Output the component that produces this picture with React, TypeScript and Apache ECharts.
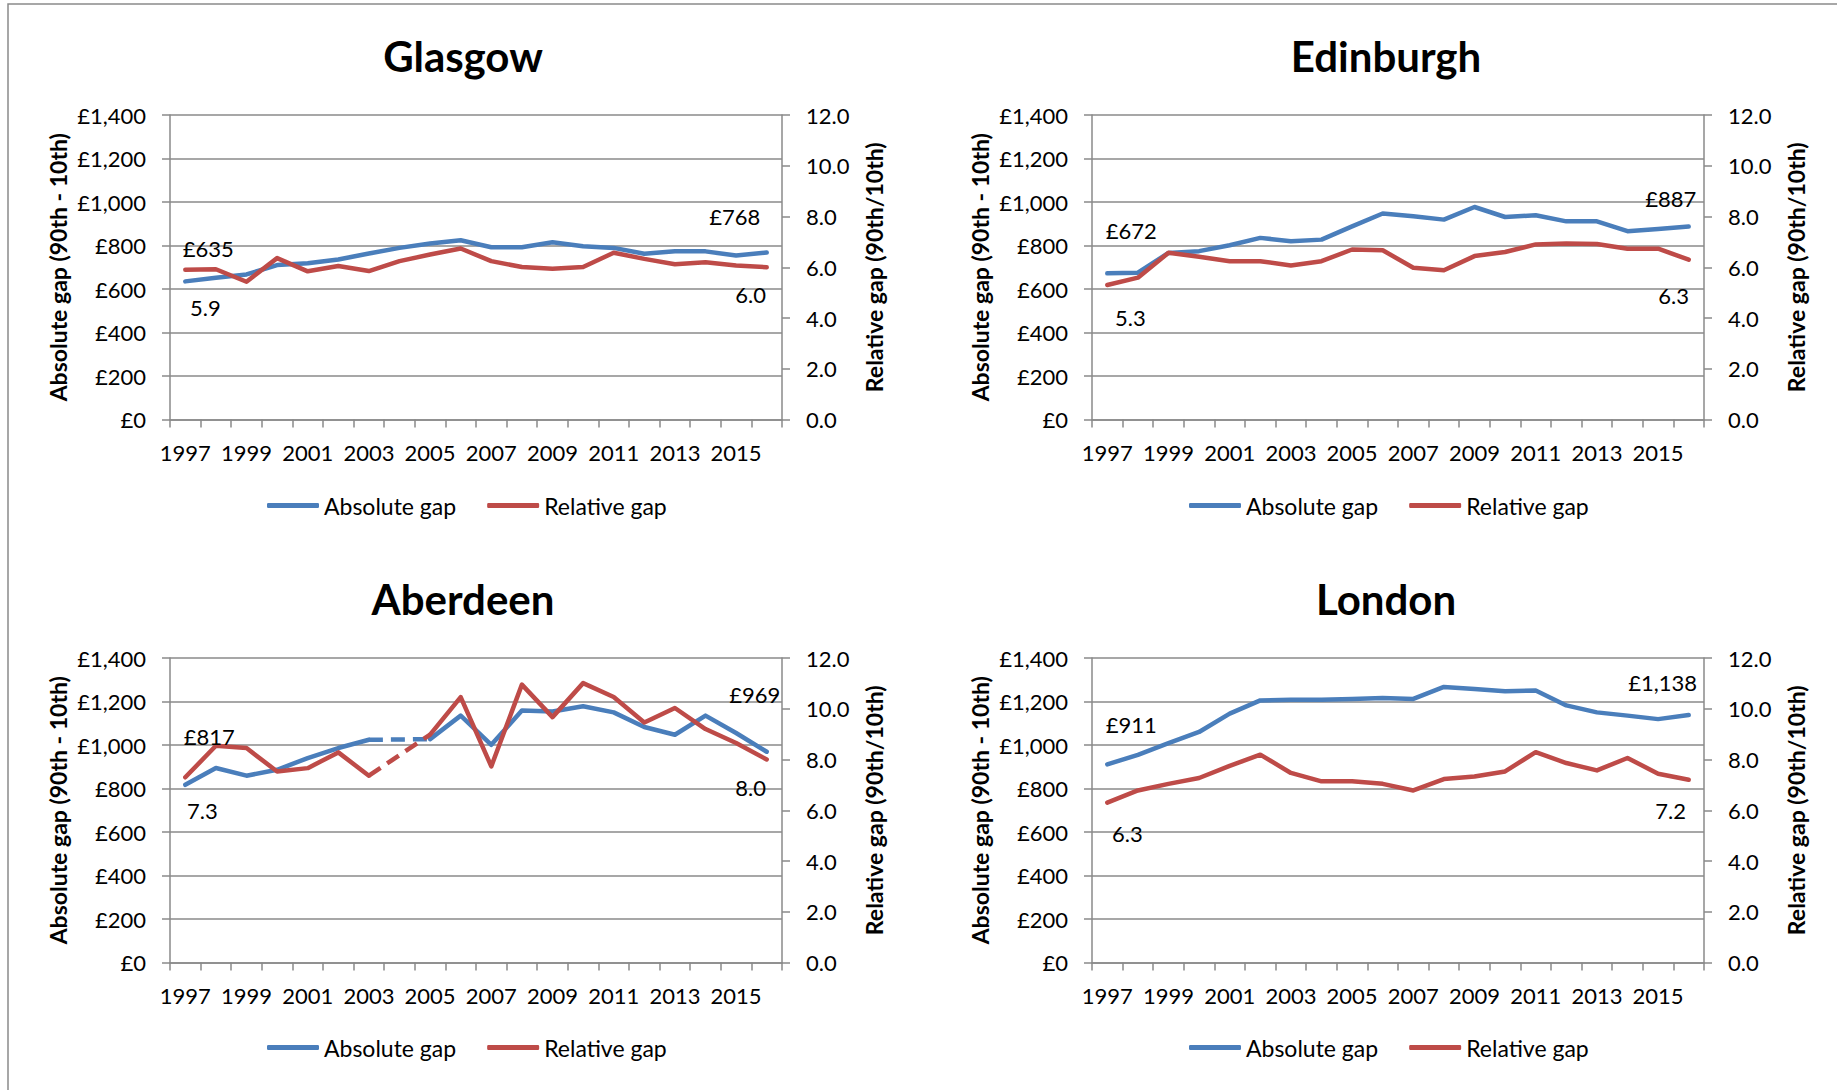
import React, { useEffect, useRef } from 'react';
import * as echarts from 'echarts';

const years = ['1997', '1998', '1999', '2000', '2001', '2002', '2003', '2004', '2005', '2006', '2007', '2008', '2009', '2010', '2011', '2012', '2013', '2014', '2015', '2016'];

const glasgowAbsolute = [635, 652, 667, 710, 718, 736, 763, 789, 809, 824, 792, 792, 815, 797, 789, 762, 774, 773, 754, 768];
const glasgowRelative = [5.9, 5.92, 5.43, 6.36, 5.84, 6.05, 5.85, 6.24, 6.5, 6.74, 6.24, 6.01, 5.94, 6.01, 6.57, 6.33, 6.12, 6.2, 6.07, 6.0];

const edinburghAbsolute = [672, 675, 766, 774, 801, 835, 820, 827, 888, 947, 934, 919, 977, 931, 939, 911, 911, 866, 876, 887];
const edinburghRelative = [5.3, 5.59, 6.57, 6.41, 6.24, 6.24, 6.07, 6.24, 6.7, 6.67, 5.98, 5.88, 6.44, 6.6, 6.9, 6.94, 6.92, 6.73, 6.73, 6.3];

const aberdeenAbsolute = [817, 894, 859, 886, 940, 986, 1024, null, 1027, 1135, 1001, 1159, 1154, 1178, 1150, 1083, 1047, 1135, 1055, 969];
const aberdeenRelative = [7.3, 8.54, 8.45, 7.53, 7.66, 8.28, 7.36, null, 8.98, 10.46, 7.73, 10.95, 9.67, 11.01, 10.46, 9.46, 10.03, 9.2, 8.65, 8.0];
// 2004 is missing for Aberdeen: bridged with a dashed segment between 2003 and 2005
const aberdeenAbsoluteBridge = [null, null, null, null, null, null, 1024, null, 1027, null, null, null, null, null, null, null, null, null, null, null];
const aberdeenRelativeBridge = [null, null, null, null, null, null, 7.36, null, 8.98, null, null, null, null, null, null, null, null, null, null, null];

const londonAbsolute = [911, 955, 1009, 1060, 1144, 1205, 1208, 1208, 1212, 1216, 1212, 1267, 1257, 1247, 1251, 1182, 1150, 1135, 1119, 1138];
const londonRelative = [6.3, 6.78, 7.04, 7.27, 7.75, 8.19, 7.47, 7.14, 7.14, 7.04, 6.78, 7.23, 7.33, 7.53, 8.29, 7.86, 7.57, 8.06, 7.44, 7.2];

const absoluteTicks = { min: 0, max: 1400, interval: 200 };
const relativeTicks = { min: 0, max: 12, interval: 2 };

const FONT = 'Lato, "Noto Sans", sans-serif';
const BLUE = '#4A7EBB';
const RED = '#BE4B48';
const AXIS = '#8a8a8a';

const panels = [
  {
    title: 'Glasgow', abs: glasgowAbsolute, rel: glasgowRelative, absBridge: null, relBridge: null,
    left: 170, top: 115, titleX: 463, titleY: 35, legendX: 267, legendY: 494,
    off: { absFirst: [23, -33], relFirst: [20, 38], absLast: [-32, -36], relLast: [-16, 27] },
  },
  {
    title: 'Edinburgh', abs: edinburghAbsolute, rel: edinburghRelative, absBridge: null, relBridge: null,
    left: 1092, top: 115, titleX: 1386, titleY: 35, legendX: 1189, legendY: 494,
    off: { absFirst: [24, -43], relFirst: [23, 32], absLast: [-18, -28], relLast: [-15, 36] },
  },
  {
    title: 'Aberdeen', abs: aberdeenAbsolute, rel: aberdeenRelative, absBridge: aberdeenAbsoluteBridge, relBridge: aberdeenRelativeBridge,
    left: 170, top: 658, titleX: 463, titleY: 578, legendX: 267, legendY: 1036,
    off: { absFirst: [24, -48], relFirst: [17, 33], absLast: [-12, -57], relLast: [-16, 28] },
  },
  {
    title: 'London', abs: londonAbsolute, rel: londonRelative, absBridge: null, relBridge: null,
    left: 1092, top: 658, titleX: 1386, titleY: 578, legendX: 1189, legendY: 1036,
    off: { absFirst: [24, -40], relFirst: [20, 31], absLast: [-26, -32], relLast: [-18, 31] },
  },
];

const fmtPound = (v: number) => '£' + Number(v).toLocaleString('en-GB');
const fmtRatio = (v: number) => Number(v).toFixed(1);

function withLabels(values: (number | null)[], color: string, offFirst: number[], offLast: number[], fmt: (v: number) => string) {
  const last = values.length - 1;
  return values.map((v, i) => {
    if (i === 0 || i === last) {
      return {
        value: v,
        symbol: 'circle',
        symbolSize: 1,
        itemStyle: { color },
        label: {
          show: true,
          position: 'inside',
          offset: i === 0 ? offFirst : offLast,
          formatter: () => fmt(v as number),
          color: '#000',
          fontSize: 22,
          fontFamily: FONT,
        },
      };
    }
    return v === null ? '-' : v;
  });
}

function buildOption() {
  const grid: any[] = [];
  const xAxis: any[] = [];
  const yAxis: any[] = [];
  const series: any[] = [];
  const title: any[] = [];
  const legend: any[] = [];
  const axisLineStyle = { color: AXIS, width: 1.5 };
  const textBase = { color: '#000', fontFamily: FONT, fontSize: 22 };

  panels.forEach((p, i) => {
    grid.push({ left: p.left, top: p.top, width: 612, height: 304.5 });
    xAxis.push({
      type: 'category', gridIndex: i, data: years, boundaryGap: true,
      axisLine: { show: true, lineStyle: axisLineStyle },
      axisTick: { show: true, interval: 0, length: 8, lineStyle: axisLineStyle },
      axisLabel: { interval: 1, margin: 22, ...textBase },
      splitLine: { show: false },
    });
    yAxis.push({
      type: 'value', gridIndex: i, position: 'left', ...absoluteTicks,
      name: 'Absolute gap (90th - 10th)', nameLocation: 'middle', nameRotate: 90, nameGap: 101,
      nameTextStyle: { ...textBase, fontSize: 23, fontWeight: 'bold' },
      axisLine: { show: true, lineStyle: axisLineStyle },
      axisTick: { show: true, length: 8, lineStyle: axisLineStyle },
      axisLabel: { margin: 24, formatter: fmtPound, ...textBase },
      splitLine: { show: true, lineStyle: axisLineStyle },
    });
    yAxis.push({
      type: 'value', gridIndex: i, position: 'right', ...relativeTicks,
      name: 'Relative gap (90th/10th)', nameLocation: 'middle', nameRotate: 90, nameGap: 80,
      nameTextStyle: { ...textBase, fontSize: 23, fontWeight: 'bold' },
      axisLine: { show: true, lineStyle: axisLineStyle },
      axisTick: { show: true, length: 8, lineStyle: axisLineStyle },
      axisLabel: { margin: 24, formatter: fmtRatio, ...textBase },
      splitLine: { show: false },
    });
    const common = {
      type: 'line', xAxisIndex: i, symbol: 'none', showSymbol: true, showAllSymbol: true,
      connectNulls: false, silent: true,
    };
    series.push({
      ...common, name: 'Absolute gap', yAxisIndex: 2 * i,
      lineStyle: { color: BLUE, width: 4.5, cap: 'round', join: 'round' }, itemStyle: { color: BLUE },
      data: withLabels(p.abs, BLUE, p.off.absFirst, p.off.absLast, fmtPound),
    });
    series.push({
      ...common, name: 'Relative gap', yAxisIndex: 2 * i + 1,
      lineStyle: { color: RED, width: 4.5, cap: 'round', join: 'round' }, itemStyle: { color: RED },
      data: withLabels(p.rel, RED, p.off.relFirst, p.off.relLast, fmtRatio),
    });
    if (p.absBridge) {
      series.push({
        ...common, name: 'Absolute gap (2004 missing)', yAxisIndex: 2 * i, connectNulls: true,
        lineStyle: { color: BLUE, width: 4.5, type: [14, 8] }, itemStyle: { color: BLUE },
        data: p.absBridge.map((v) => (v === null ? '-' : v)),
      });
    }
    if (p.relBridge) {
      series.push({
        ...common, name: 'Relative gap (2004 missing)', yAxisIndex: 2 * i + 1, connectNulls: true,
        lineStyle: { color: RED, width: 4.5, type: [14, 8] }, itemStyle: { color: RED },
        data: p.relBridge.map((v) => (v === null ? '-' : v)),
      });
    }
    title.push({
      text: p.title, left: p.titleX, top: p.titleY, textAlign: 'center', padding: 0,
      textStyle: { color: '#000', fontFamily: FONT, fontSize: 42, fontWeight: 'bold' },
    });
    legend.push({
      left: p.legendX, top: p.legendY, padding: 0, orient: 'horizontal',
      itemWidth: 52, itemHeight: 5, itemGap: 31, icon: 'roundRect', selectedMode: false,
      data: ['Absolute gap', 'Relative gap'],
      textStyle: { ...textBase, fontSize: 23 },
    });
  });

  return {
    animation: false,
    backgroundColor: '#ffffff',
    title, legend, grid, xAxis, yAxis, series,
    graphic: [
      {
        type: 'rect', silent: true,
        shape: { x: 8, y: 4, width: 1900, height: 1200 },
        style: { fill: 'none', stroke: '#8a8a8a', lineWidth: 1.5 },
      },
    ],
  };
}

export default function App() {
  const ref = useRef<HTMLDivElement>(null);
  useEffect(() => {
    if (!ref.current) return;
    const chart = echarts.init(ref.current, undefined, { renderer: 'svg' });
    chart.setOption(buildOption() as any);
    return () => chart.dispose();
  }, []);
  return (
    <div
      ref={ref}
      style={{ position: 'absolute', left: 0, top: 0, width: 1837, height: 1090, background: '#fff' }}
    />
  );
}
